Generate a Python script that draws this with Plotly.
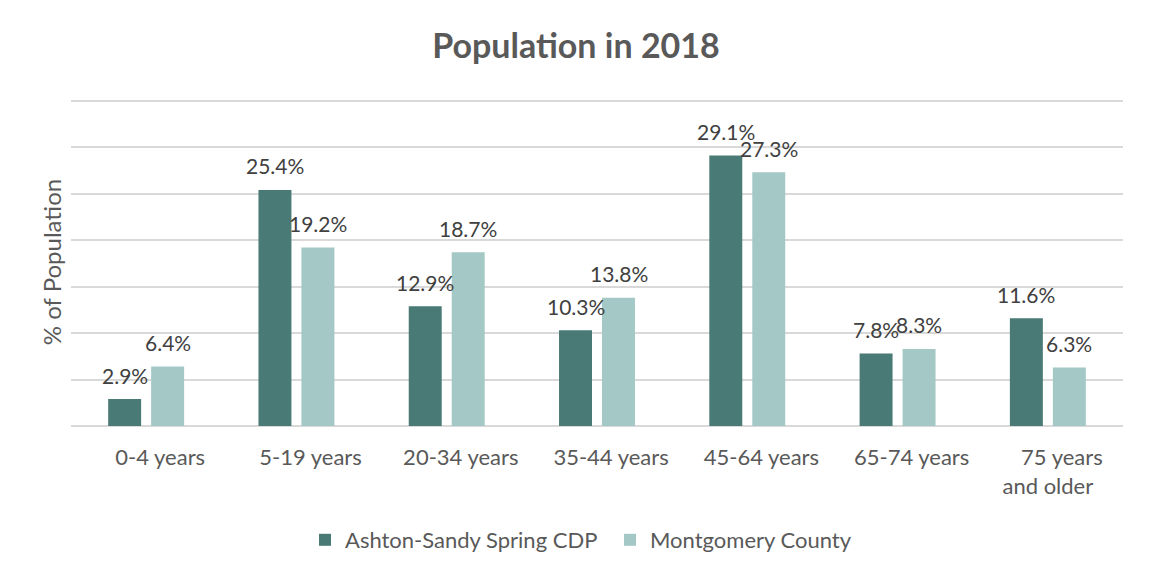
import plotly.graph_objects as go

categories = ["0-4 years", "5-19 years", "20-34 years", "35-44 years", "45-64 years", "65-74 years", "75 years and older"]
tick_labels = ["0-4 years", "5-19 years", "20-34 years", "35-44 years", "45-64 years", "65-74 years", "75 years<br>and older"]
ashton = [2.9, 25.4, 12.9, 10.3, 29.1, 7.8, 11.6]
montgomery = [6.4, 19.2, 18.7, 13.8, 27.3, 8.3, 6.3]
series_names = ["Ashton-Sandy Spring CDP", "Montgomery County"]
colors = ["#497A75", "#A3C8C5"]

# page body has an 8px margin; compensate
OFF = 8
W, H = 1151 - 2 * OFF, 577 - 2 * OFF
YMAX = 35.3
PXU = 325 / 35.0
L = 71 - OFF
T = 101 - OFF - (YMAX - 35) * PXU
R = W - (1123 - OFF)
B = H - (426 - OFF)
FONT = "Lato, Carlito, Calibri, sans-serif"

fig = go.Figure()
for name, vals, col in zip(series_names, [ashton, montgomery], colors):
    fig.add_trace(go.Bar(x=categories, y=vals, name=name, marker=dict(color=col, line=dict(width=0))))

# data labels
offset = 21.5
for vals, dx in [(ashton, -offset), (montgomery, offset)]:
    for c, v in zip(categories, vals):
        fig.add_annotation(x=c, y=v, text=f"{v:.1f}%", showarrow=False, xshift=dx, yshift=24,
                           yanchor="middle", xanchor="center",
                           font=dict(family=FONT, size=21, color="#404040"))

pad = "\u00a0" * 5
ticktext = [pad + t for t in tick_labels]

fig.update_layout(
    width=W, height=H,
    margin=dict(l=L, r=R, t=T, b=B, autoexpand=False),
    paper_bgcolor="white", plot_bgcolor="white",
    barmode="group", bargap=0.428, bargroupgap=0.233,
    title=dict(text="<b>Population in 2018</b>", x=(576 - OFF) / W, xanchor="center", xref="container",
               y=1 - (46 - OFF) / H, yanchor="middle", yref="container",
               font=dict(family=FONT, size=34, color="#595959")),
    font=dict(family=FONT, color="#595959"),
    legend=dict(orientation="h", x=(319 - 14 - OFF) / W, xanchor="left", xref="container",
                y=1 - (540 - OFF) / H, yanchor="middle", yref="container",
                font=dict(family=FONT, size=22, color="#595959"), itemwidth=30,
                entrywidth=260, entrywidthmode="pixels"),
    xaxis=dict(showgrid=False, tickfont=dict(family=FONT, size=22, color="#595959"),
               tickvals=categories, ticktext=ticktext, tickangle=0,
               showline=False, ticks="", ticklabelstandoff=16),
    yaxis=dict(range=[0, YMAX], dtick=5, showticklabels=False, gridcolor="#D9D9D9", gridwidth=2,
               zeroline=True, zerolinecolor="#D9D9D9", zerolinewidth=2,
               title=dict(text="% of Population", font=dict(family=FONT, size=24, color="#595959"), standoff=1)),
)

fig.write_html("out.html")
